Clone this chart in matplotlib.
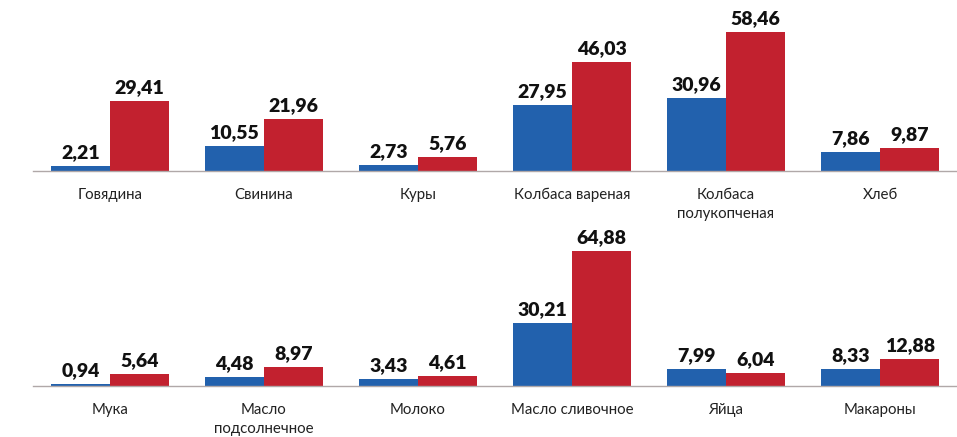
import matplotlib
matplotlib.use("Agg")
import matplotlib.pyplot as plt
import numpy as np

categories_top = ["Говядина", "Свинина", "Куры", "Колбаса вареная", "Колбаса\nполукопченая", "Хлеб"]
blue_top = [2.21, 10.55, 2.73, 27.95, 30.96, 7.86]
red_top = [29.41, 21.96, 5.76, 46.03, 58.46, 9.87]

categories_bottom = ["Мука", "Масло\nподсолнечное", "Молоко", "Масло сливочное", "Яйца", "Макароны"]
blue_bottom = [0.94, 4.48, 3.43, 30.21, 7.99, 8.33]
red_bottom = [5.64, 8.97, 4.61, 64.88, 6.04, 12.88]

BLUE = "#2261ad"
RED = "#c2212f"
FONT = ["Lato", "DejaVu Sans"]
plt.rcParams["font.family"] = FONT

W, H = 957, 437
fig = plt.figure(figsize=(W / 100, H / 100), dpi=100)
fig.patch.set_facecolor("white")


def fmt(v):
    return f"{v:.2f}".replace(".", ",")


def draw_row(base_px, top_px, ymax, cats, blue, red):
    left = 33 / W
    width = 924 / W
    ax = fig.add_axes([left, (H - base_px) / H, width, (base_px - top_px) / H])
    x = np.arange(len(cats))
    bw = 0.385
    ax.bar(x - bw / 2, blue, width=bw, color=BLUE, align="center")
    ax.bar(x + bw / 2, red, width=bw, color=RED, align="center")
    for xi, v in zip(x - bw / 2, blue):
        ax.annotate(fmt(v), (xi, v), xytext=(0, 3.5), textcoords="offset points",
                    ha="center", va="bottom", fontsize=14, fontweight="heavy", color="#111111")
    for xi, v in zip(x + bw / 2, red):
        ax.annotate(fmt(v), (xi, v), xytext=(0, 3.5), textcoords="offset points",
                    ha="center", va="bottom", fontsize=14, fontweight="heavy", color="#111111")
    ax.set_xlim(-0.5, len(cats) - 0.5)
    ax.set_ylim(0, ymax)
    ax.set_xticks(x)
    ax.set_xticklabels(cats, fontsize=10.8, color="#222222", linespacing=1.45)
    ax.tick_params(axis="x", length=0, pad=12)
    ax.set_yticks([])
    for s in ["top", "right", "left"]:
        ax.spines[s].set_visible(False)
    ax.spines["bottom"].set_color("#b0a8a8")
    ax.spines["bottom"].set_linewidth(1.0)
    ax.set_facecolor("none")
    return ax


draw_row(171, 10, 161 / 2.37, categories_top, blue_top, red_top)
draw_row(386, 230, 156 / 2.08, categories_bottom, blue_bottom, red_bottom)

fig.savefig("out.png", dpi=100, facecolor="white")
